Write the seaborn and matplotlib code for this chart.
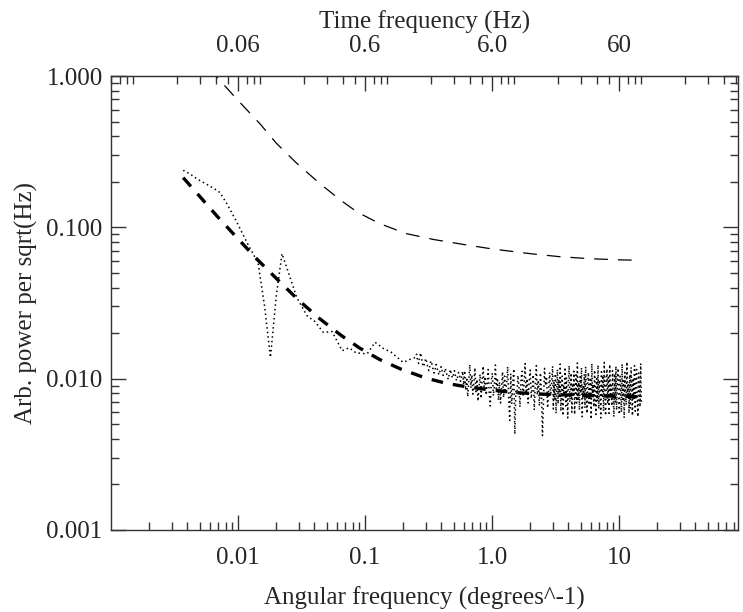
import numpy as np
import matplotlib
matplotlib.use("Agg")
import matplotlib.pyplot as plt
from matplotlib.ticker import LogLocator, FixedLocator, FixedFormatter, NullFormatter
import seaborn as sns

# upper thin dashed curve
upper_f = [0.006, 0.0067, 0.01, 0.015, 0.02, 0.029, 0.044, 0.065, 0.087, 0.13, 0.21,
           0.35, 0.6, 1.0, 2.0, 3.4, 6.0, 10.0, 15.0]
upper_y = [1.15, 1.0, 0.69, 0.48, 0.36, 0.265, 0.195, 0.15, 0.126, 0.106, 0.091,
           0.083, 0.077, 0.072, 0.067, 0.064, 0.062, 0.061, 0.0605]

# thick dashed model curve
model_f = [0.0037, 0.005, 0.007, 0.01, 0.014, 0.02, 0.03, 0.044, 0.065, 0.09, 0.13,
           0.19, 0.3, 0.44, 0.65, 1.0, 1.5, 2.5, 4.0, 7.0, 15.0]
model_y = [0.213, 0.160, 0.116, 0.084, 0.062, 0.046, 0.033, 0.0249, 0.0193, 0.0160, 0.0134,
           0.0116, 0.0101, 0.0093, 0.0088, 0.0084, 0.0081, 0.0079, 0.0078, 0.0077, 0.0076]

# measured spectrum, low-frequency part
meas_low_f = [0.0037, 0.0042, 0.0048, 0.0055, 0.0063, 0.0072, 0.0083, 0.0098, 0.0118, 0.0144,
              0.0162, 0.018, 0.020, 0.0222, 0.0257, 0.029, 0.035, 0.040, 0.047, 0.055,
              0.066, 0.075, 0.085, 0.104, 0.12, 0.14, 0.16, 0.2, 0.23]
meas_low_y = [0.238, 0.225, 0.208, 0.195, 0.183, 0.17, 0.14, 0.108, 0.079, 0.058,
              0.03, 0.0138, 0.035, 0.067, 0.0467, 0.0344, 0.026, 0.024, 0.0202, 0.0205,
              0.0153, 0.016, 0.0148, 0.0146, 0.0174, 0.0158, 0.0150, 0.0128, 0.0135]

# measured spectrum, 0.25 .. 3 (units of 1e-3)
meas_mid_milli = [
    13.8, 14.5, 13.2, 12.6, 13.9, 14.8, 13.5, 12.4, 12.0, 12.9,
    13.6, 12.8, 11.9, 11.3, 12.2, 13.1, 12.5, 11.6, 10.9, 11.5,
    12.4, 11.8, 11.0, 10.6, 11.4, 12.0, 11.2, 10.5, 10.9, 11.7,
    11.1, 10.3, 9.9, 10.8, 11.5, 10.7, 10.1, 10.6, 11.3, 10.4,
    9.7, 10.2, 11.0, 10.5, 9.6, 10.3, 11.2,
    9.1, 11.3, 8.4, 10.2, 7.6, 9.8, 12.4, 8.7, 10.6, 7.9,
    9.4, 11.8, 8.2, 9.9, 7.1, 8.8, 10.7, 7.4, 9.6, 12.1,
    8.5, 10.3, 7.8, 9.2, 11.5, 8.0, 6.6, 9.7, 10.9, 7.7,
    8.9, 12.3, 8.3, 10.1, 7.2, 9.5, 6.9, 8.6, 11.1, 7.5,
    10.4, 8.1, 9.3, 12.0, 7.3, 5.3, 10.8, 6.8, 9.4, 11.6,
    4.3, 8.4, 7.9, 10.5, 8.8, 6.5, 9.9, 11.2, 7.6, 9.1,
    12.6, 8.0, 10.0, 6.9, 9.6, 11.4, 7.4, 8.7, 10.6, 6.2,
    9.2, 12.2, 7.8, 9.8, 6.6, 10.9, 8.3, 4.2, 7.1, 11.7,
    9.0, 10.3, 6.4, 8.5, 11.0, 7.7, 9.5,
]
# measured spectrum, 3 .. 15 (units of 1e-3)
meas_high_milli = [
    12.1, 6.3, 9.4, 7.2, 10.8, 5.9, 8.7, 11.5, 6.8, 9.9,
    7.5, 12.5, 6.1, 8.9, 10.4, 5.7, 9.1, 7.8, 11.9, 6.6,
    10.1, 8.2, 5.5, 9.7, 12.2, 7.0, 8.5, 10.9, 6.0, 9.3,
    7.6, 11.2, 5.8, 8.8, 10.6, 6.9, 12.7, 7.3, 9.5, 6.2,
    10.3, 8.0, 11.8, 5.6, 9.0, 7.4, 10.7, 6.4, 12.0, 8.3,
    5.9, 9.6, 11.0, 6.7, 8.6, 10.2, 5.4, 12.6, 7.7, 9.2,
    6.5, 11.4, 8.1, 5.8, 10.0, 7.1, 12.3, 6.3, 9.8, 8.4,
    5.5, 11.1, 7.5, 10.5, 6.1, 12.8, 8.7, 5.7, 9.4, 11.6,
    6.8, 10.2, 5.9, 12.4, 7.9, 9.0, 6.6, 11.3, 8.2, 5.6,
    10.8, 7.0, 12.1, 6.2, 9.3, 11.7, 7.6, 5.8, 10.4, 8.8,
    6.0, 12.5, 7.3, 9.7, 5.5, 11.0, 8.0, 6.7, 12.9, 7.8,
    9.1, 5.9, 10.6, 6.4, 11.9, 8.5, 5.7, 10.1, 7.2, 12.2,
    6.1, 9.5, 11.5, 7.4, 5.6, 10.9, 8.3, 6.5, 12.6, 7.0,
]
meas_f = np.concatenate([meas_low_f,
                         np.geomspace(0.25, 2.95, len(meas_mid_milli)),
                         np.geomspace(3.0, 15.0, len(meas_high_milli))])
meas_y = np.concatenate([meas_low_y,
                         np.array(meas_mid_milli) * 1e-3,
                         np.array(meas_high_milli) * 1e-3])

x_ticks = [0.01, 0.1, 1.0, 10.0]
x_ticklabels = ["0.01", "0.1", "1.0", "10"]
top_ticks = [0.06, 0.6, 6.0, 60.0]
top_ticklabels = ["0.06", "0.6", "6.0", "60"]
y_ticks = [0.001, 0.01, 0.1, 1.0]
y_ticklabels = ["0.001", "0.010", "0.100", "1.000"]

FS = 18

sns.set_style("ticks")
plt.rcParams["font.family"] = ["Liberation Serif", "DejaVu Serif"]
plt.rcParams["font.size"] = FS

fig = plt.figure(figsize=(7.43, 6.12), dpi=100)
ax = fig.add_axes([0.1494, 0.134, 0.8439, 0.7418])

sns.lineplot(x=upper_f, y=upper_y, ax=ax, color="black", linewidth=0.9,
             linestyle=(0, (11, 8)), estimator=None, sort=False)
sns.lineplot(x=meas_f, y=meas_y, ax=ax, color="black", linewidth=1.1,
             linestyle=(0, (1, 2.0)), estimator=None, sort=False)
sns.lineplot(x=model_f, y=model_y, ax=ax, color="black", linewidth=2.4,
             linestyle=(0, (3.5, 3)), estimator=None, sort=False)

ax.set_xscale("log")
ax.set_yscale("log")
ax.set_xlim(0.001, 86.5)
ax.set_ylim(0.001, 1.0)

ax.xaxis.set_major_locator(FixedLocator(x_ticks))
ax.xaxis.set_major_formatter(FixedFormatter(x_ticklabels))
ax.xaxis.set_minor_locator(LogLocator(base=10, subs=np.arange(2, 10)))
ax.xaxis.set_minor_formatter(NullFormatter())
ax.yaxis.set_major_locator(FixedLocator(y_ticks))
ax.yaxis.set_major_formatter(FixedFormatter(y_ticklabels))
ax.yaxis.set_minor_locator(LogLocator(base=10, subs=np.arange(2, 10)))
ax.yaxis.set_minor_formatter(NullFormatter())

ax.tick_params(which="both", direction="in", bottom=True, left=True, right=True, top=False,
               labelsize=FS, color="#333333", width=1.0)
ax.tick_params(axis="x", pad=12)
ax.tick_params(axis="y", pad=6)
ax.tick_params(which="major", length=11)
ax.tick_params(which="minor", length=6)
for s in ax.spines.values():
    s.set_color("#333333")
    s.set_linewidth(1.0)

top = ax.secondary_xaxis("top", functions=(lambda x: 6.0 * x, lambda x: x / 6.0))
top.set_xscale("log")
top.xaxis.set_major_locator(FixedLocator(top_ticks))
top.xaxis.set_major_formatter(FixedFormatter(top_ticklabels))
top.xaxis.set_minor_locator(LogLocator(base=10, subs=np.arange(2, 10)))
top.xaxis.set_minor_formatter(NullFormatter())
top.tick_params(which="both", direction="in", labelsize=FS, color="#333333", width=1.0, pad=14)
top.tick_params(which="major", length=11)
top.tick_params(which="minor", length=6)
top.set_xlabel("Time frequency (Hz)", fontsize=FS, labelpad=4)

ax.set_xlabel("Angular frequency (degrees^-1)", fontsize=FS, labelpad=13)
ax.set_ylabel("Arb. power per sqrt(Hz)", fontsize=FS, labelpad=6)

fig.savefig("out.png", dpi=100)
